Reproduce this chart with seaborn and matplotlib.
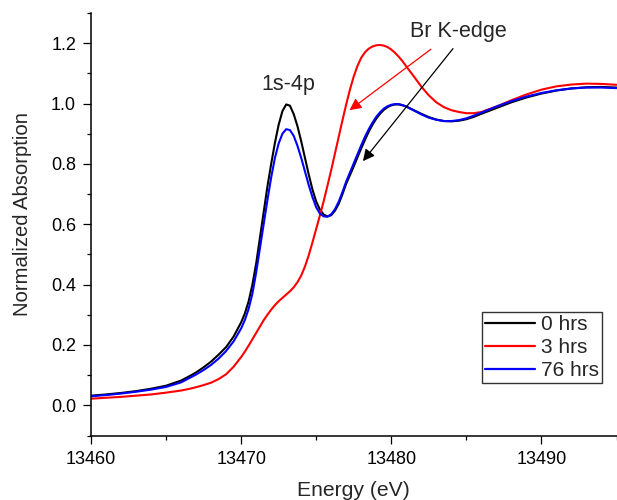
import numpy as np
import pandas as pd
import matplotlib
matplotlib.use("Agg")
import matplotlib.pyplot as plt
from matplotlib.ticker import MultipleLocator, FormatStrFormatter
import seaborn as sns

# Energy grid (eV), read at finer spacing across the edge
energy_pre = [13460, 13461, 13462, 13463, 13464, 13465, 13466,
              13466.5, 13467, 13467.5, 13468, 13468.5, 13469, 13469.5]
energy_edge = [13470, 13470.25, 13470.5, 13470.75, 13471, 13471.25, 13471.5, 13471.75,
               13472, 13472.25, 13472.5, 13472.75, 13473, 13473.25, 13473.5, 13473.75,
               13474, 13474.25, 13474.5, 13474.75, 13475, 13475.25, 13475.5, 13475.75,
               13476, 13476.25, 13476.5, 13476.75, 13477, 13477.25, 13477.5, 13477.75,
               13478, 13478.25, 13478.5, 13478.75, 13479, 13479.25, 13479.5, 13479.75,
               13480, 13480.25, 13480.5, 13480.75, 13481]
energy_post = [13481.5, 13482, 13482.5, 13483, 13483.5, 13484, 13484.5, 13485, 13485.5, 13486,
               13487, 13488, 13489, 13490, 13491, 13492, 13493, 13494, 13495]

abs_0h_pre = [0.032, 0.036, 0.041, 0.047, 0.055, 0.065, 0.082,
              0.095, 0.109, 0.126, 0.145, 0.168, 0.193, 0.228]
abs_0h_edge = [0.275, 0.305, 0.345, 0.40, 0.47, 0.555, 0.64, 0.725,
               0.80, 0.87, 0.93, 0.975, 0.997, 0.993, 0.965, 0.925,
               0.875, 0.82, 0.765, 0.715, 0.675, 0.648, 0.632, 0.626,
               0.63, 0.645, 0.668, 0.70, 0.735, 0.763, 0.792, 0.822,
               0.852, 0.88, 0.907, 0.93, 0.95, 0.966, 0.979, 0.988,
               0.994, 0.997, 0.997, 0.994, 0.99]
abs_0h_post = [0.978, 0.966, 0.955, 0.947, 0.942, 0.941, 0.943, 0.948, 0.956, 0.966,
               0.985, 1.004, 1.02, 1.033, 1.043, 1.05, 1.054, 1.055, 1.053]

abs_3h_pre = [0.022, 0.025, 0.028, 0.032, 0.036, 0.042, 0.049,
              0.054, 0.060, 0.067, 0.075, 0.087, 0.103, 0.128]
abs_3h_edge = [0.16, 0.178, 0.198, 0.219, 0.24, 0.261, 0.282, 0.30,
               0.317, 0.332, 0.345, 0.356, 0.367, 0.378, 0.391, 0.408,
               0.43, 0.46, 0.497, 0.54, 0.585, 0.63, 0.677, 0.728,
               0.78, 0.835, 0.89, 0.945, 0.998, 1.047, 1.09, 1.125,
               1.152, 1.17, 1.182, 1.189, 1.193, 1.194, 1.192, 1.187,
               1.179, 1.168, 1.155, 1.14, 1.123]
abs_3h_post = [1.09, 1.056, 1.027, 1.004, 0.988, 0.978, 0.972, 0.968, 0.968, 0.972,
               0.99, 1.011, 1.03, 1.046, 1.057, 1.063, 1.066, 1.065, 1.062]

abs_76h_pre = [0.030, 0.034, 0.039, 0.045, 0.052, 0.061, 0.076,
               0.089, 0.102, 0.117, 0.134, 0.155, 0.18, 0.212]
abs_76h_edge = [0.255, 0.283, 0.32, 0.37, 0.44, 0.52, 0.60, 0.68,
                0.755, 0.82, 0.868, 0.90, 0.915, 0.912, 0.893, 0.86,
                0.82, 0.775, 0.73, 0.69, 0.656, 0.635, 0.626, 0.625,
                0.633, 0.65, 0.675, 0.707, 0.742, 0.772, 0.802, 0.832,
                0.862, 0.89, 0.915, 0.937, 0.956, 0.971, 0.983, 0.991,
                0.996, 0.998, 0.998, 0.995, 0.99]
abs_76h_post = [0.977, 0.964, 0.953, 0.946, 0.942, 0.942, 0.945, 0.951, 0.96, 0.97,
                0.99, 1.008, 1.023, 1.035, 1.044, 1.05, 1.053, 1.053, 1.051]

series_names = ["0 hrs", "3 hrs", "76 hrs"]
series_colors = ["#000000", "#ff0000", "#0000ff"]

energy = energy_pre + energy_edge + energy_post
series_values = [abs_0h_pre + abs_0h_edge + abs_0h_post,
                 abs_3h_pre + abs_3h_edge + abs_3h_post,
                 abs_76h_pre + abs_76h_edge + abs_76h_post]

df = pd.concat([
    pd.DataFrame({"Energy": energy, "Abs": vals, "Series": name})
    for name, vals in zip(series_names, series_values)
], ignore_index=True)

sns.set_style("ticks")
plt.rcParams["font.family"] = ["Liberation Sans", "DejaVu Sans"]

fig = plt.figure(figsize=(6.17, 5.0), dpi=100)
ax = fig.add_axes([0.1475, 0.129, 0.8517, 0.845])

sns.lineplot(data=df, x="Energy", y="Abs", hue="Series", hue_order=series_names,
             palette=dict(zip(series_names, series_colors)), sort=False,
             linewidth=1.5, ax=ax, legend=True)

ax.set_xlim(13460, 13495)
ax.set_ylim(-0.1, 1.3)
ax.xaxis.set_major_locator(MultipleLocator(10))
ax.xaxis.set_minor_locator(MultipleLocator(5))
ax.set_yticks([0.0, 0.2, 0.4, 0.6, 0.8, 1.0, 1.2])
ax.yaxis.set_minor_locator(MultipleLocator(0.1))
ax.yaxis.set_major_formatter(FormatStrFormatter("%.1f"))

for s in ["top", "right"]:
    ax.spines[s].set_visible(False)
for s in ["left", "bottom"]:
    ax.spines[s].set_linewidth(1.1)
    ax.spines[s].set_color("#000000")

ax.tick_params(which="major", direction="out", length=5.8, width=0.9,
               labelsize=13, pad=5, colors="#000000")
ax.tick_params(which="minor", direction="out", length=3.0, width=0.9, colors="#000000")

ax.set_xlabel("Energy (eV)", fontsize=15.2)
ax.set_ylabel("Normalized Absorption", fontsize=14.6)
ax.xaxis.set_label_coords(0.5, -0.108)
ax.yaxis.set_label_coords(-0.112, 0.524)

handles, labels = ax.get_legend_handles_labels()
leg = ax.legend(handles, labels, loc="upper left", bbox_to_anchor=(0.7435, 0.293),
                borderaxespad=0, fontsize=15, frameon=True, fancybox=False,
                framealpha=1, edgecolor="#333333", handlelength=2.4,
                handletextpad=0.3, labelspacing=0.2, borderpad=0.15)
leg.get_frame().set_linewidth(1.0)
for h in leg.get_lines():
    h.set_linewidth(1.6)

ax.text(13473.11, 1.046, "1s-4p", fontsize=15.5, ha="center", va="baseline")
ax.text(13484.44, 1.219, "Br K-edge", fontsize=15.5, ha="center", va="baseline")

ax.annotate("", xy=(13477.22, 0.978), xytext=(13482.64, 1.18),
            arrowprops=dict(arrowstyle="-|>,head_length=0.5,head_width=0.25",
                            mutation_scale=14, color="#ff0000", lw=0.9,
                            shrinkA=0, shrinkB=0))
ax.annotate("", xy=(13478.11, 0.809), xytext=(13484.11, 1.182),
            arrowprops=dict(arrowstyle="-|>,head_length=0.5,head_width=0.25",
                            mutation_scale=14, color="#000000", lw=0.9,
                            shrinkA=0, shrinkB=0))

fig.savefig("out.png", dpi=100)
